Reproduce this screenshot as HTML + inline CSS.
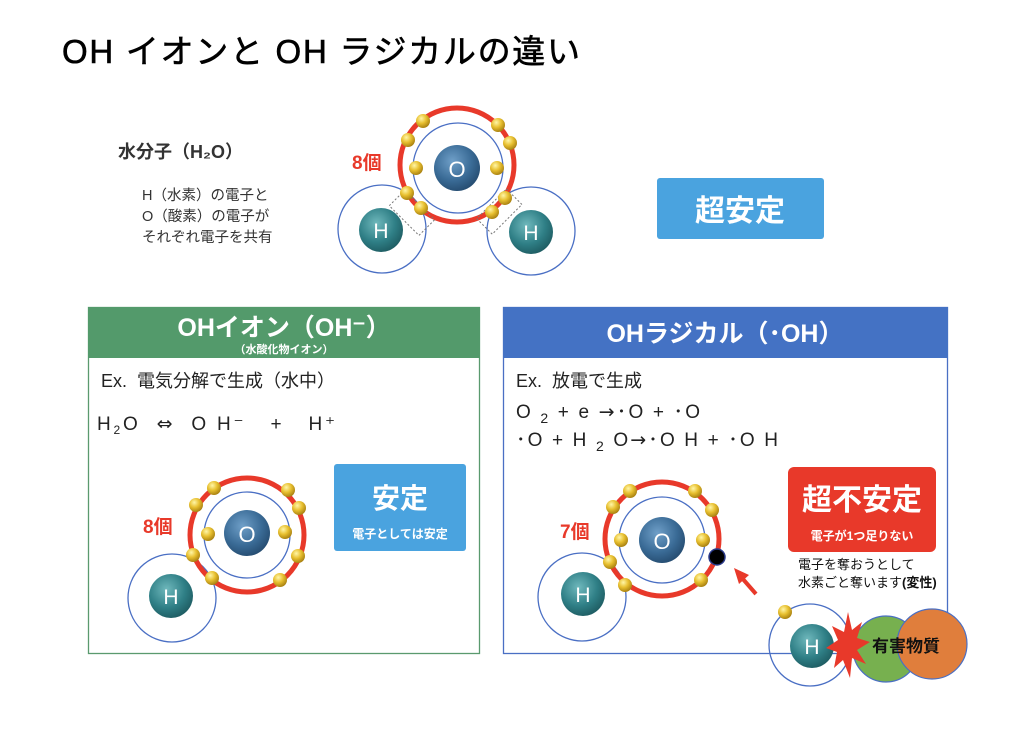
<!DOCTYPE html>
<html><head><meta charset="utf-8"><style>
body{margin:0;background:#fff;}
svg text{font-family:"Liberation Sans","Noto Sans CJK JP",sans-serif;white-space:pre;}
.dv{font-family:"DejaVu Sans",sans-serif;}
</style></head><body>
<svg width="1024" height="729" viewBox="0 0 1024 729" xmlns="http://www.w3.org/2000/svg">
<defs>
<radialGradient id="go" cx="40%" cy="35%" r="70%"><stop offset="0" stop-color="#6f9fc8"/><stop offset="0.6" stop-color="#3a6b96"/><stop offset="1" stop-color="#244a6e"/></radialGradient>
<radialGradient id="gh" cx="40%" cy="35%" r="70%"><stop offset="0" stop-color="#6fb8bc"/><stop offset="0.6" stop-color="#2f7f86"/><stop offset="1" stop-color="#1d5a60"/></radialGradient>
<radialGradient id="ge" cx="38%" cy="32%" r="70%"><stop offset="0" stop-color="#fff6a8"/><stop offset="0.5" stop-color="#e8c030"/><stop offset="1" stop-color="#a88010"/></radialGradient>
</defs>
<text x="62" y="63" font-size="33" fill="#000" stroke="#000" stroke-width="0.6" textLength="518">OH イオンと OH ラジカルの違い</text>

<!-- top water -->
<text x="118" y="158" font-size="18" font-weight="bold" fill="#333">水分子（H₂O）</text>
<text x="142" y="200" font-size="14.5" fill="#333">H（水素）の電子と</text>
<text x="142" y="221" font-size="14.5" fill="#333">O（酸素）の電子が</text>
<text x="142" y="242" font-size="14.5" fill="#333">それぞれ電子を共有</text>
<circle cx="382" cy="229" r="44" fill="none" stroke="#4a6fc4" stroke-width="1.3"/>
<circle cx="531" cy="231" r="44" fill="none" stroke="#4a6fc4" stroke-width="1.3"/>
<circle cx="457" cy="165" r="57" fill="none" stroke="#e8392a" stroke-width="5"/>
<circle cx="458" cy="168" r="45" fill="none" stroke="#4a6fc4" stroke-width="1.3"/>
<rect x="396" y="188" width="22" height="42" fill="none" stroke="#777" stroke-dasharray="2,2" transform="rotate(-45 414 205)"/>
<rect x="491" y="190" width="22" height="42" fill="none" stroke="#777" stroke-dasharray="2,2" transform="rotate(45 500 208)"/>
<circle cx="457" cy="168" r="23" fill="url(#go)"/><text x="457" y="177" font-size="22" fill="#fff" text-anchor="middle">O</text>
<circle cx="381" cy="230" r="22" fill="url(#gh)"/><text x="381" y="238" font-size="21" fill="#fff" text-anchor="middle">H</text>
<circle cx="531" cy="232" r="22" fill="url(#gh)"/><text x="531" y="240" font-size="21" fill="#fff" text-anchor="middle">H</text>
<g fill="url(#ge)">
<circle cx="423" cy="121" r="7"/><circle cx="408" cy="140" r="7"/><circle cx="416" cy="168" r="7"/><circle cx="407" cy="193" r="7"/><circle cx="421" cy="208" r="7"/>
<circle cx="498" cy="125" r="7"/><circle cx="510" cy="143" r="7"/><circle cx="497" cy="168" r="7"/><circle cx="505" cy="198" r="7"/><circle cx="492" cy="212" r="7"/>
</g>
<text x="352" y="169" font-size="19" font-weight="bold" fill="#e8392a">8個</text>
<rect x="657" y="178" width="167" height="61" rx="3" fill="#4aa3df"/>
<text x="740" y="221" font-size="30" font-weight="bold" fill="#fff" text-anchor="middle">超安定</text>

<!-- OH ion box -->
<rect x="88.5" y="307.5" width="391" height="346" fill="#fff" stroke="#5a9a6e" stroke-width="1.3"/>
<rect x="88" y="307" width="392" height="51" fill="#539a6b"/>
<text x="284" y="336" font-size="25" font-weight="bold" fill="#fff" text-anchor="middle">OHイオン（OH⁻）</text>
<text x="284" y="353" font-size="11" font-weight="bold" fill="#fff" text-anchor="middle">（水酸化物イオン）</text>
<text x="101" y="387" font-size="18" fill="#222">Ex.  電気分解で生成（水中）</text>
<text x="97" y="430" font-size="19" fill="#222" textLength="238">H<tspan font-size="12" dy="4">2</tspan><tspan dy="-4">O  <tspan class="dv">⇔</tspan>  O H⁻   +   H⁺</tspan></text>
<circle cx="172" cy="598" r="44" fill="none" stroke="#4a6fc4" stroke-width="1.3"/>
<circle cx="247" cy="535" r="57" fill="none" stroke="#e8392a" stroke-width="5"/>
<circle cx="247" cy="535" r="43" fill="none" stroke="#4a6fc4" stroke-width="1.3"/>
<circle cx="247" cy="533" r="23" fill="url(#go)"/><text x="247" y="542" font-size="22" fill="#fff" text-anchor="middle">O</text>
<circle cx="171" cy="596" r="22" fill="url(#gh)"/><text x="171" y="604" font-size="21" fill="#fff" text-anchor="middle">H</text>
<g fill="url(#ge)">
<circle cx="214" cy="488" r="7"/><circle cx="196" cy="505" r="7"/><circle cx="208" cy="534" r="7"/><circle cx="193" cy="555" r="7"/><circle cx="212" cy="578" r="7"/>
<circle cx="288" cy="490" r="7"/><circle cx="299" cy="508" r="7"/><circle cx="285" cy="532" r="7"/><circle cx="298" cy="556" r="7"/><circle cx="280" cy="580" r="7"/>
</g>
<text x="143" y="533" font-size="19" font-weight="bold" fill="#e8392a">8個</text>
<rect x="334" y="464" width="132" height="87" rx="3" fill="#4aa3df"/>
<text x="400" y="508" font-size="28" font-weight="bold" fill="#fff" text-anchor="middle">安定</text>
<text x="400" y="538" font-size="12" font-weight="bold" fill="#fff" text-anchor="middle">電子としては安定</text>

<!-- OH radical box -->
<rect x="503.5" y="307.5" width="444" height="346" fill="#fff" stroke="#4a6fc4" stroke-width="1.3"/>
<rect x="503" y="307" width="445" height="51" fill="#4472c4"/>
<text x="725" y="342" font-size="25" font-weight="bold" fill="#fff" text-anchor="middle">OHラジカル（･OH）</text>
<text x="516" y="387" font-size="18" fill="#222">Ex.  放電で生成</text>
<text x="516" y="418" font-size="19" fill="#222" textLength="184">O <tspan font-size="14" dy="5">2</tspan><tspan dy="-5"> + e <tspan class="dv">→</tspan>･O + ･O</tspan></text>
<text x="516" y="446" font-size="19" fill="#222" textLength="262">･O + H <tspan font-size="14" dy="5">2</tspan><tspan dy="-5"> O<tspan class="dv">→</tspan>･O H + ･O H</tspan></text>
<circle cx="582" cy="597" r="44" fill="none" stroke="#4a6fc4" stroke-width="1.3"/>
<circle cx="662" cy="539" r="57" fill="none" stroke="#e8392a" stroke-width="5"/>
<circle cx="662" cy="540" r="43" fill="none" stroke="#4a6fc4" stroke-width="1.3"/>
<circle cx="662" cy="540" r="23" fill="url(#go)"/><text x="662" y="549" font-size="22" fill="#fff" text-anchor="middle">O</text>
<circle cx="583" cy="594" r="22" fill="url(#gh)"/><text x="583" y="602" font-size="21" fill="#fff" text-anchor="middle">H</text>
<g fill="url(#ge)">
<circle cx="630" cy="491" r="7"/><circle cx="613" cy="507" r="7"/><circle cx="621" cy="540" r="7"/><circle cx="610" cy="562" r="7"/><circle cx="625" cy="585" r="7"/>
<circle cx="695" cy="491" r="7"/><circle cx="712" cy="510" r="7"/><circle cx="703" cy="540" r="7"/><circle cx="701" cy="580" r="7"/>
</g>
<circle cx="717" cy="557" r="8" fill="#000" stroke="#2a3a8a" stroke-width="1.5"/>
<text x="560" y="538" font-size="19" font-weight="bold" fill="#e8392a">7個</text>
<line x1="756" y1="594" x2="742" y2="578" stroke="#e8392a" stroke-width="4"/>
<polygon points="734,568 749,575 739,584" fill="#e8392a"/>
<rect x="788" y="467" width="148" height="85" rx="6" fill="#e8392a"/>
<text x="862" y="510" font-size="30" font-weight="bold" fill="#fff" text-anchor="middle">超不安定</text>
<text x="862" y="540" font-size="12" font-weight="bold" fill="#fff" text-anchor="middle">電子が1つ足りない</text>
<text x="798" y="569" font-size="13" fill="#111">電子を奪おうとして</text>
<text x="798" y="587" font-size="13" fill="#111">水素ごと奪います<tspan font-weight="bold">(変性)</tspan></text>
<circle cx="886" cy="649" r="33" fill="#77b04f" stroke="#4a6fc4" stroke-width="1.2"/>
<circle cx="932" cy="644" r="35" fill="#e07e3c" stroke="#4a6fc4" stroke-width="1.2"/>
<circle cx="810" cy="645" r="41" fill="none" stroke="#4a6fc4" stroke-width="1.3"/>
<circle cx="812" cy="646" r="22" fill="url(#gh)"/><text x="812" y="654" font-size="21" fill="#fff" text-anchor="middle">H</text>
<circle cx="785" cy="612" r="7" fill="url(#ge)"/>
<polygon points="848,612 852,630 862,622 857,638 870,642 857,650 866,664 852,658 850,678 843,660 834,668 837,652 826,648 838,640 832,626 844,632" fill="#e8392a"/>
<text x="906" y="652" font-size="17" font-weight="bold" fill="#111" text-anchor="middle">有害物質</text>
</svg>
</body></html>
